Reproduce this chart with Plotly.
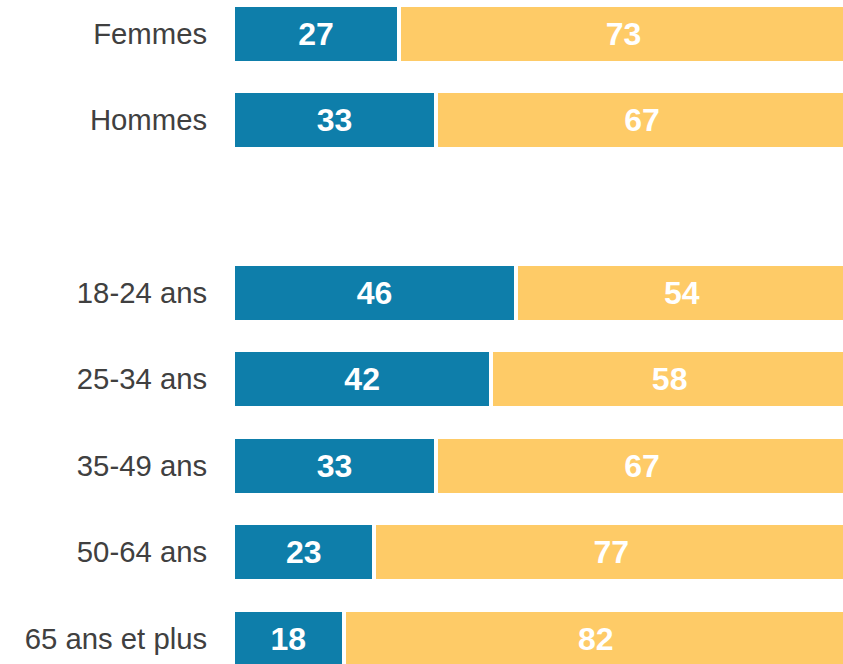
import plotly.graph_objects as go

categories = ["Femmes", "Hommes", " ", "18-24 ans", "25-34 ans", "35-49 ans", "50-64 ans", "65 ans et plus"]
oui = [27, 33, None, 46, 42, 33, 23, 18]
non = [73, 67, None, 54, 58, 67, 77, 82]

BLUE = "#0E7EAA"
YELLOW = "#FECB67"

ROW = 86.43  # pixels per category row

fig = go.Figure()
for vals, col in [(oui, BLUE), (non, YELLOW)]:
    fig.add_trace(go.Bar(
        y=categories, x=vals, orientation="h",
        marker=dict(color=col, line=dict(color="white", width=4)),
        width=58 / ROW,
        text=[("" if v is None else str(v)) for v in vals],
        textposition="inside", insidetextanchor="middle",
        textfont=dict(family="Liberation Sans, Arial, sans-serif", size=32, color="white", weight="bold"),
        hoverinfo="skip", showlegend=False,
    ))

fig.update_layout(
    barmode="stack",
    width=843, height=664,
    margin=dict(l=233, r=0, t=0, b=0),
    plot_bgcolor="white", paper_bgcolor="white",
    xaxis=dict(range=[0, 100 * (843 - 233) / 615], visible=False, fixedrange=True),
    yaxis=dict(
        type="category", categoryorder="array", categoryarray=categories,
        range=[7 + (664 - 638.5) / ROW, -33.5 / ROW],
        showgrid=False, zeroline=False, showline=False, fixedrange=True,
        ticks="outside", ticklen=19, tickcolor="rgba(0,0,0,0)",
        tickfont=dict(family="Liberation Sans, Arial, sans-serif", size=29.3, color="#404040"),
    ),
)

fig.write_html(
    "out.html",
    config={"displayModeBar": False, "staticPlot": True},
    post_script="document.body.style.margin='0';document.body.style.overflow='hidden';",
)
